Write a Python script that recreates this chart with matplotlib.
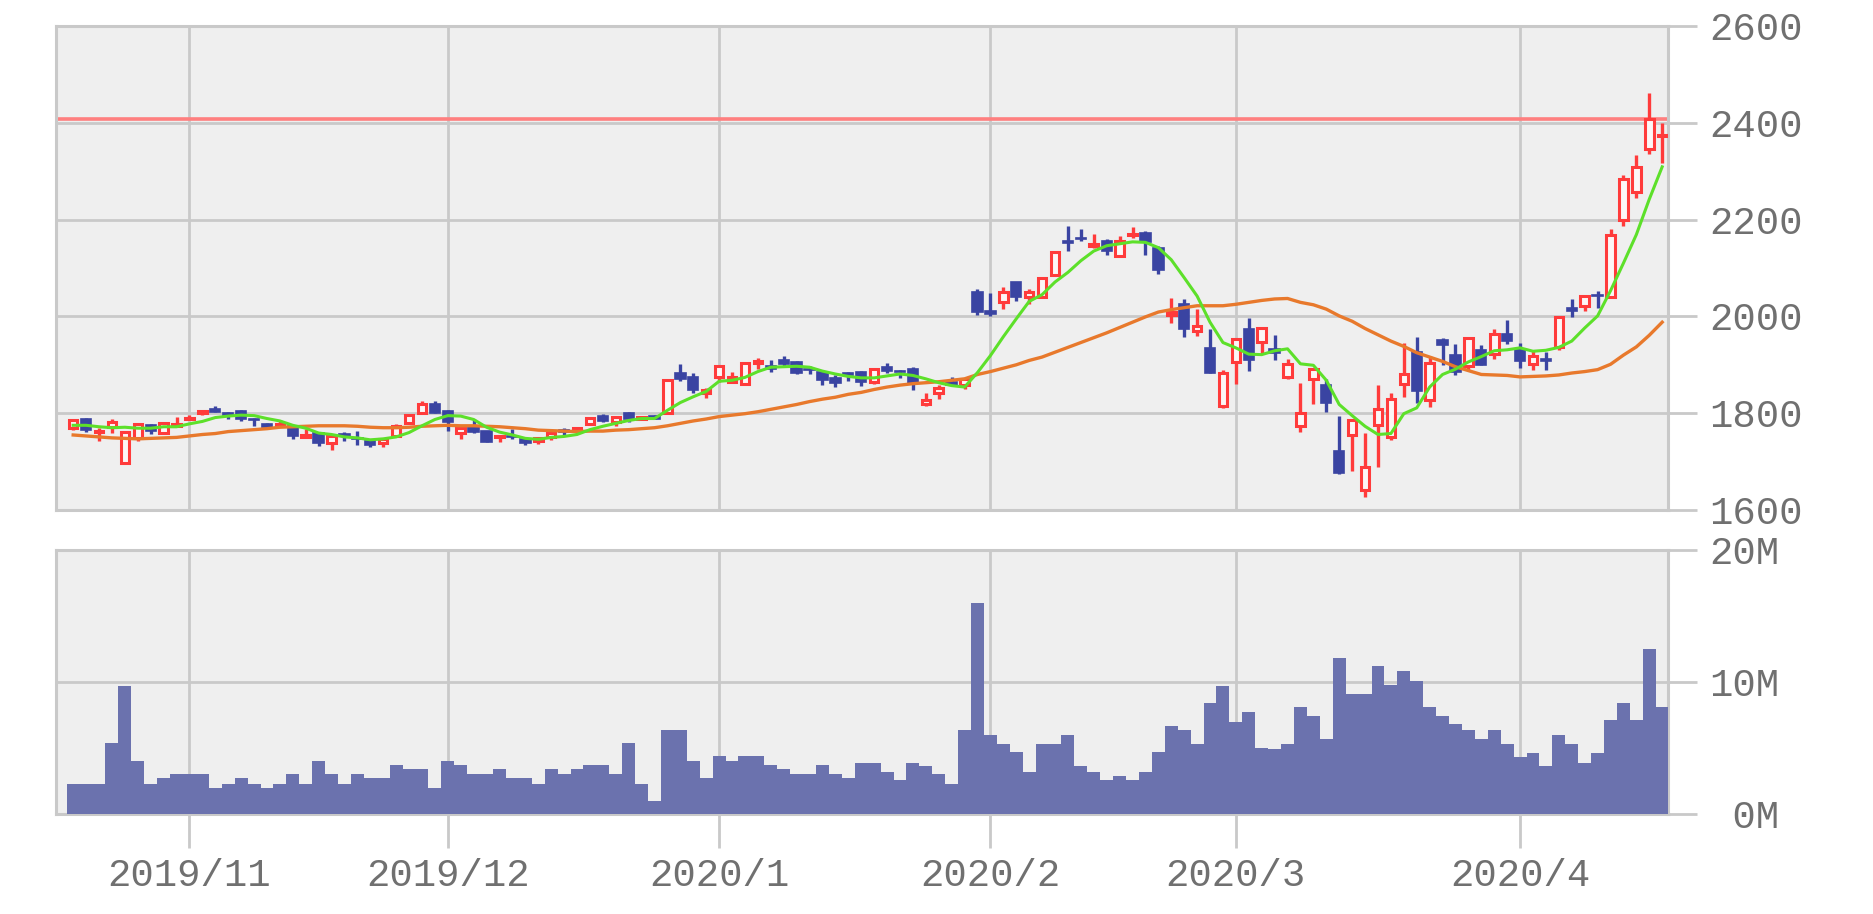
import numpy as np
import pandas as pd
import matplotlib
matplotlib.use("Agg")
import matplotlib.pyplot as plt

# ---------------- data ----------------
start_date = "2019-10-21"
end_date = "2020-04-17"
market_holidays = ["2019-11-28", "2019-12-25", "2020-01-01", "2020-01-20",
                   "2020-02-17", "2020-04-10"]
month_starts = ["2019-11-01", "2019-12-01", "2020-01-01",
                "2020-02-01", "2020-03-01", "2020-04-01"]
month_labels = ["2019/11", "2019/12", "2020/1", "2020/2", "2020/3", "2020/4"]

opens = [1770, 1788, 1761, 1771, 1698, 1748, 1775, 1760, 1774,
         1788, 1801, 1809, 1801, 1804, 1788, 1778, 1775, 1773, 1751, 1760, 1738, 1757, 1749, 1743, 1739,
         1753, 1780, 1801, 1818,
         1804, 1760, 1774, 1764, 1751, 1751, 1747, 1742, 1750, 1765, 1767, 1778, 1795, 1781, 1800, 1788,
         1794, 1801, 1883, 1874, 1842,
         1875, 1864, 1860, 1904, 1898, 1910, 1905, 1892, 1886, 1872, 1883, 1886, 1865, 1896, 1886, 1891,
         1820, 1841, 1864, 1858, 2051,
         2011, 2030, 2071, 2041, 2041, 2085, 2155, 2163, 2145, 2156, 2125, 2168, 2173, 2142, 2003, 2026,
         1970, 1934, 1815,
         1906, 1975, 1947, 1933, 1875, 1774, 1871, 1858, 1722, 1755, 1642, 1775, 1750, 1860, 1926, 1828,
         1951, 1920, 1898, 1931, 1923, 1964,
         1933, 1902, 1911, 1936, 2017, 2021, 2044, 2040, 2200, 2258, 2346, 2372]

highs = [1786, 1790, 1770, 1788, 1764, 1779, 1777, 1782, 1792,
         1797, 1806, 1815, 1803, 1806, 1790, 1780, 1786, 1775, 1767, 1762, 1754, 1761, 1763, 1747, 1746,
         1777, 1797, 1825, 1825,
         1806, 1773, 1789, 1764, 1754, 1767, 1751, 1750, 1764, 1769, 1770, 1792, 1798, 1793, 1803, 1793,
         1796, 1870, 1901, 1884, 1853,
         1898, 1886, 1904, 1914, 1910, 1918, 1907, 1898, 1887, 1879, 1886, 1887, 1894, 1903, 1890, 1895,
         1841, 1858, 1875, 1873, 2056,
         2049, 2060, 2071, 2056, 2079, 2136, 2186, 2180, 2170, 2159, 2166, 2185, 2177, 2145, 2039, 2035,
         2015, 1975, 1890,
         1955, 1996, 1978, 1961, 1911, 1863, 1894, 1871, 1794, 1786, 1759, 1858, 1842, 1945, 1957, 1919,
         1955, 1942, 1956, 1940, 1974, 1993,
         1945, 1928, 1926, 1999, 2036, 2044, 2053, 2180, 2292, 2333, 2461, 2400]

lows = [1765, 1762, 1742, 1760, 1695, 1743, 1756, 1759, 1771,
        1785, 1797, 1802, 1789, 1783, 1774, 1767, 1772, 1747, 1750, 1733, 1723, 1743, 1734, 1730, 1731,
        1753, 1778, 1800, 1800,
        1763, 1747, 1760, 1740, 1740, 1746, 1735, 1736, 1745, 1755, 1757, 1777, 1782, 1774, 1782, 1785,
        1788, 1800, 1866, 1841, 1832,
        1864, 1864, 1860, 1892, 1886, 1896, 1880, 1881, 1859, 1855, 1866, 1857, 1860, 1883, 1873, 1847,
        1815, 1830, 1856, 1851, 2002,
        2000, 2015, 2032, 2025, 2038, 2085, 2136, 2155, 2142, 2126, 2124, 2161, 2127, 2088, 1987, 1958,
        1960, 1883, 1811,
        1860, 1888, 1922, 1910, 1870, 1761, 1818, 1802, 1675, 1681, 1626, 1689, 1745, 1833, 1821, 1812,
        1900, 1878, 1889, 1900, 1912, 1944,
        1893, 1890, 1889, 1930, 1998, 2011, 2018, 2038, 2186, 2245, 2335, 2316]

closes = [1786, 1766, 1762, 1781, 1761, 1777, 1763, 1780, 1777,
          1791, 1805, 1802, 1796, 1788, 1786, 1772, 1778, 1753, 1755, 1739, 1753, 1753, 1746, 1735, 1746,
          1774, 1797, 1819, 1801,
          1782, 1770, 1761, 1740, 1752, 1750, 1739, 1749, 1760, 1761, 1769, 1791, 1784, 1792, 1787, 1793,
          1789, 1869, 1870, 1847, 1848,
          1898, 1875, 1903, 1907, 1892, 1901, 1883, 1890, 1869, 1862, 1878, 1865, 1892, 1887, 1885, 1862,
          1828, 1853, 1858, 1871, 2009,
          2004, 2050, 2040, 2050, 2079, 2134, 2151, 2160, 2150, 2135, 2156, 2170, 2153, 2096, 2009, 1973,
          1980, 1884, 1884,
          1954, 1909, 1976, 1924, 1901, 1801, 1892, 1821, 1677, 1785, 1689, 1808, 1830, 1881, 1846, 1903,
          1940, 1886, 1955, 1900, 1964, 1950,
          1908, 1919, 1907, 1998, 2012, 2043, 2043, 2169, 2283, 2308, 2408, 2375]

ma_short = [1775, 1775, 1772, 1770, 1771, 1769, 1769, 1772, 1772,
            1778, 1783, 1791, 1794, 1796, 1795, 1789, 1784, 1775, 1769, 1759, 1756, 1751, 1749, 1745,
            1747, 1751, 1760, 1774, 1787,
            1795, 1794, 1787, 1771, 1761, 1755, 1748, 1746, 1750, 1752, 1756, 1766, 1773, 1779, 1785,
            1789, 1789, 1806, 1822, 1834, 1845,
            1866, 1868, 1874, 1886, 1895, 1896, 1897, 1895, 1887, 1881, 1876, 1873, 1873, 1877, 1881,
            1878, 1871, 1863, 1857, 1854, 1884,
            1919, 1958, 1995, 2031, 2045, 2071, 2091, 2115, 2135, 2146, 2150, 2154, 2153, 2142, 2117,
            2080, 2042, 1988, 1946,
            1935, 1922, 1921, 1929, 1933, 1902, 1899, 1868, 1818, 1795, 1773, 1756, 1758, 1799, 1811,
            1854, 1880, 1891, 1906, 1917, 1929, 1931,
            1935, 1928, 1930, 1936, 1949, 1976, 2001, 2053, 2110, 2169, 2242, 2309]

ma_long = [1755, 1753, 1751, 1749, 1748, 1747, 1748, 1749, 1750,
           1753, 1756, 1758, 1762, 1764, 1766, 1768, 1771, 1772, 1773, 1774, 1774, 1774, 1773, 1771,
           1770, 1770, 1771, 1773, 1774,
           1775, 1774, 1774, 1773, 1772, 1770, 1768, 1765, 1764, 1763, 1762, 1763, 1763, 1765, 1766,
           1768, 1770, 1774, 1779, 1784, 1788,
           1793, 1796, 1799, 1803, 1808, 1813, 1818, 1824, 1829, 1833, 1839, 1843, 1849, 1854, 1858,
           1861, 1863, 1865, 1868, 1871, 1880,
           1886, 1893, 1900, 1909, 1916, 1926, 1936, 1946, 1956, 1966, 1977, 1988, 1999, 2009, 2014,
           2018, 2022, 2022, 2022,
           2025, 2029, 2033, 2036, 2037, 2029, 2024, 2015, 2001, 1990, 1975, 1962, 1949, 1938, 1925,
           1916, 1907, 1896, 1888, 1880, 1879, 1878,
           1875, 1876, 1877, 1879, 1883, 1886, 1890, 1901, 1920, 1937, 1961, 1988]

volume_m = [2.3, 2.3, 2.3, 5.4, 9.7, 4.05, 2.3, 2.7, 3.0,
            3.0, 3.0, 2.0, 2.3, 2.7, 2.3, 2.0, 2.3, 3.0, 2.3, 4.0, 3.0, 2.3, 3.0, 2.7, 2.7,
            3.7, 3.4, 3.4, 2.0,
            4.0, 3.7, 3.0, 3.0, 3.4, 2.7, 2.7, 2.3, 3.4, 3.0, 3.4, 3.7, 3.7, 3.0, 5.4, 2.3,
            1.0, 6.4, 6.4, 4.0, 2.7,
            4.4, 4.0, 4.4, 4.4, 3.7, 3.4, 3.0, 3.0, 3.7, 3.0, 2.7, 3.9, 3.9, 3.2, 2.6, 3.9,
            3.6, 3.0, 2.3, 6.4, 16.0,
            6.0, 5.3, 4.7, 3.2, 5.3, 5.3, 6.0, 3.6, 3.2, 2.6, 2.9, 2.6, 3.2, 4.7, 6.7, 6.4,
            5.3, 8.4, 9.7,
            7.0, 7.7, 5.0, 4.9, 5.3, 8.1, 7.4, 5.7, 11.8, 9.1, 9.1, 11.2, 9.8, 10.8, 10.1, 8.1,
            7.4, 6.8, 6.4, 5.7, 6.4, 5.3,
            4.3, 4.6, 3.6, 6.0, 5.3, 3.9, 4.6, 7.1, 8.4, 7.1, 12.5, 8.1]

current_price = 2408
price_ticks = [1600, 1800, 2000, 2200, 2400, 2600]
volume_ticks_m = [0, 10, 20]
volume_tick_labels = [" 0M", "10M", "20M"]

# ---------------- derived positions ----------------
days = pd.bdate_range(start_date, end_date)
days = days[~days.isin(pd.to_datetime(market_holidays))]
n = len(days)
x = np.arange(n)
o = np.array(opens, float)
h = np.array(highs, float)
l = np.array(lows, float)
c = np.array(closes, float)
v = np.array(volume_m, float) * 1e6
month_pos = [int(np.searchsorted(days.values, np.datetime64(m))) for m in month_starts]

# ---------------- style ----------------
plt.rcParams["font.family"] = ["Liberation Mono", "DejaVu Sans Mono"]
BG = "#efefef"
GRID = "#c9c9c9"
TXT = "#707070"
UP = "#ff3b3b"
DOWN = "#3a44a2"
VOL = "#6b72ae"
FS = 28

W, H = 1874, 914
fig = plt.figure(figsize=(W / 100, H / 100), dpi=100)
fig.patch.set_facecolor("white")

left = 56 / W
width = (1668 - 56) / W
ax = fig.add_axes([left, 1 - 510 / H, width, (510 - 26) / H])
axv = fig.add_axes([left, 1 - 814 / H, width, (814 - 550) / H])

xlim = (-1.33, n - 0.55)

for a in (ax, axv):
    a.set_facecolor(BG)
    a.set_axisbelow(True)
    for s in a.spines.values():
        s.set_color(GRID)
        s.set_linewidth(2.2)
    a.set_xlim(*xlim)
    a.set_xticks(month_pos)
    a.grid(True, color=GRID, linewidth=2.0)
    a.yaxis.tick_right()
    a.tick_params(axis="y", length=21, width=2.0, color=GRID, pad=8.5,
                  labelsize=FS, labelcolor=TXT)

# ---------------- price panel ----------------
up = c >= o
dn = ~up
ax.vlines(x[up], l[up], h[up], color=UP, linewidth=2.4, zorder=3)
ax.vlines(x[dn], l[dn], h[dn], color=DOWN, linewidth=2.4, zorder=3)
ax.bar(x[up], np.maximum(c[up] - o[up], 1.5), bottom=o[up], width=0.66,
       facecolor="#fcf6f6", edgecolor=UP, linewidth=2.2, zorder=4)
ax.bar(x[dn], np.maximum(o[dn] - c[dn], 2.0), bottom=c[dn], width=0.8,
       facecolor=DOWN, edgecolor=DOWN, linewidth=1.2, zorder=4)

ax.plot(x, ma_long, color="#e8792c", linewidth=2.4, zorder=5)
ax.plot(x, ma_short, color="#5de02a", linewidth=2.2, zorder=6)
ax.axhline(current_price, color="#ff7f7f", linewidth=2.6, zorder=2.5)

ax.set_ylim(price_ticks[0], price_ticks[-1])
ax.set_yticks(price_ticks)
ax.set_yticklabels([str(t) for t in price_ticks])
ax.tick_params(axis="x", length=0, labelbottom=False)

# ---------------- volume panel ----------------
axv.bar(x, v, width=1.0, color=VOL, linewidth=0, zorder=3)
axv.set_ylim(0, volume_ticks_m[-1] * 1e6)
axv.set_yticks([t * 1e6 for t in volume_ticks_m])
axv.set_yticklabels(volume_tick_labels)
axv.set_xticklabels(month_labels)
axv.tick_params(axis="x", length=24.5, width=2.0, color=GRID, pad=7,
                labelsize=FS, labelcolor=TXT)

fig.savefig("out.png", dpi=100, facecolor="white")
